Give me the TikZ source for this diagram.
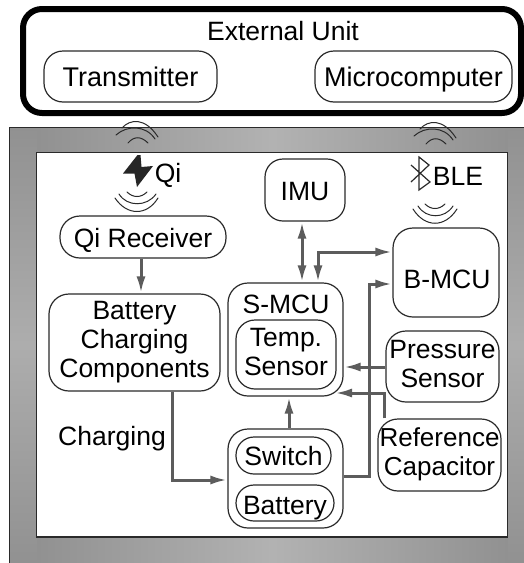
\documentclass[tikz,border=0pt]{standalone}
\usepackage{fontspec}
\setmainfont{Liberation Sans}
\usetikzlibrary{arrows.meta,calc}
\definecolor{edgec}{HTML}{2A2A2A}
\definecolor{arrowc}{HTML}{5C5C5C}
\definecolor{frameA}{HTML}{919191}
\definecolor{frameB}{HTML}{B2B2B2}
\newcommand{\fs}[1]{\fontsize{#1}{29}\selectfont}
\tikzset{
  capstrut/.style={execute at begin node={\rule{0pt}{#1}},execute at end node={\rule[-6pt]{0pt}{6pt}}},
  capstrut/.default=26pt,
  box/.style={draw=edgec,line width=1.2pt,fill=white,inner sep=0pt,align=center,font=\fs{26.5},text=black,capstrut},
  label/.style={inner sep=0pt,align=center,font=\fs{26.5},text=black,capstrut},
  flow/.style={draw=arrowc,line width=3pt,line join=miter,-{Latex[length=17pt,width=9pt]}},
  flowboth/.style={draw=arrowc,line width=3pt,line join=miter,{Latex[length=17pt,width=9pt]}-{Latex[length=17pt,width=9pt]}},
  wave/.style={draw=edgec,line width=1pt,line cap=round},
}
\begin{document}
\begin{tikzpicture}[x=1pt,y=-1pt]
\useasboundingbox (0,0) rectangle (524,563);
\clip (0,0) rectangle (524,563);
% frame
\shade[left color=frameA,right color=frameA,middle color=frameB] (37,127) rectangle (508,153);
\shade[left color=frameA,right color=frameA,middle color=frameB] (37,537) rectangle (508,563);
\shade[top color=frameA,bottom color=frameA,middle color=frameB!85!frameA] (10,127) rectangle (37,563);
\shade[top color=frameA,bottom color=frameA,middle color=frameB!85!frameA] (508,127) rectangle (524,563);
\draw[edgec,line width=1.4pt] (9.7,563) -- (9.7,127.3) -- (524,127.3);
\draw[edgec,line width=1.4pt,fill=white] (36.7,152.7) rectangle (507.7,537);
% external unit
\draw[black,line width=6pt,rounded corners=19pt,fill=white] (23,9) rectangle (521,113);
\node[label] (ext) at (283,30) {External Unit};
\node[box,minimum width=173pt,minimum height=51pt,rounded corners=19pt,font=\fs{27}] (tx) at (130.5,76.5) {Transmitter};
\node[box,minimum width=197pt,minimum height=51pt,rounded corners=19pt,font=\fs{27}] (mc) at (413.5,76.5) {Microcomputer};
% waves
\foreach \dx/\dy in {0/0,298/1}{
  \begin{scope}[shift={(\dx,\dy)}]
    \draw[wave] (122,128) .. controls (130,119) and (145,117) .. (158,137);
    \draw[wave] (116,135) .. controls (127,125) and (146,125) .. (155,139);
    \draw[wave] (128,143) .. controls (134,136) and (141,136) .. (148,143);
  \end{scope}
}
\draw[wave] (127,192) .. controls (133,198) and (141,198) .. (147,192);
\draw[wave] (119,194) .. controls (127,207) and (147,207) .. (156,194);
\draw[wave] (115,198) .. controls (127,216) and (147,216) .. (158,198);
\draw[wave] (425,204) .. controls (431,210) and (439,210) .. (445,204);
\draw[wave] (418,206) .. controls (426,219) and (445,219) .. (453,206);
\draw[wave] (413,209) .. controls (425,228) and (445,228) .. (457,209);
% qi and ble marks
\fill[black!85] (137.5,155) -- (140.5,155) -- (141.5,167) -- (153,166) -- (137,187) -- (134.5,173.5) -- (123,173.5) -- cycle;
\node[label] (qi) at (168,172) {Qi};
\draw[edgec,line width=1.2pt,line join=miter] (411,165) -- (430,182) -- (419,190) -- (419,157) -- (429,165) -- (411,182);
\node[label] (ble) at (458,175) {BLE};
% nodes
\node[box,minimum width=166pt,minimum height=42pt,rounded corners=20pt] (qr) at (143,237) {Qi Receiver};
\node[box,minimum width=171pt,minimum height=97pt,rounded corners=20pt] (bc) at (134.5,342.5) {Battery\\Charging\\Components};
\node[box,minimum width=80pt,minimum height=62pt,rounded corners=18pt] (imu) at (305,190) {IMU};
\node[box,minimum width=106pt,minimum height=89pt,rounded corners=20pt] (bm) at (446,272.5) {};
\node[label] (bmt) at (447,278) {B-MCU};
\node[box,minimum width=115pt,minimum height=113pt,rounded corners=20pt] (sm) at (285.5,339.5) {};
\node[label] (smt) at (286,303.5) {S-MCU};
\node[box,minimum width=100pt,minimum height=69pt,rounded corners=19pt,capstrut=30pt] (ts) at (286,354.5) {Temp.\\Sensor};
\node[box,minimum width=113pt,minimum height=71pt,rounded corners=20pt,capstrut=29pt] (ps) at (442.5,366.5) {Pressure\\Sensor};
\node[box,minimum width=123pt,minimum height=72pt,rounded corners=20pt,font=\fs{26},capstrut=31pt] (rc) at (439.5,455) {Reference\\Capacitor};
\node[box,minimum width=115pt,minimum height=99pt,rounded corners=20pt] (sb) at (285.5,478.5) {};
\node[box,minimum width=95pt,minimum height=37pt,rounded corners=18pt] (sw) at (283.5,455.5) {Switch};
\node[box,minimum width=98pt,minimum height=36pt,rounded corners=18pt,capstrut=29pt] (ba) at (285,503) {Battery};
\node[label] (chg) at (112,435) {Charging};
% connectors
\draw[flow] (qr.south -| 141,0) -- (bc.north -| 141,0);
\draw[flowboth] (imu.south -| 302,0) -- (sm.north -| 302,0);
\draw[flowboth] (bm.west |- 0,252) -- (318,252) -- (sm.north -| 318,0);
\draw[flow] (sb.east |- 0,476) -- (369,476) -- (369,284) -- (bm.west |- 0,284);
\draw[flow] (ps.west |- 0,367) -- (sm.east |- 0,367);
\draw[flow] (rc.north -| 384,0) -- (384,393) -- (335,393);
\draw[flow] (sb.north -| 289,0) -- (sm.south -| 289,0);
\draw[flow] (bc.south -| 172,0) -- (172,480) -- (sb.west |- 0,480);
\end{tikzpicture}
\end{document}
